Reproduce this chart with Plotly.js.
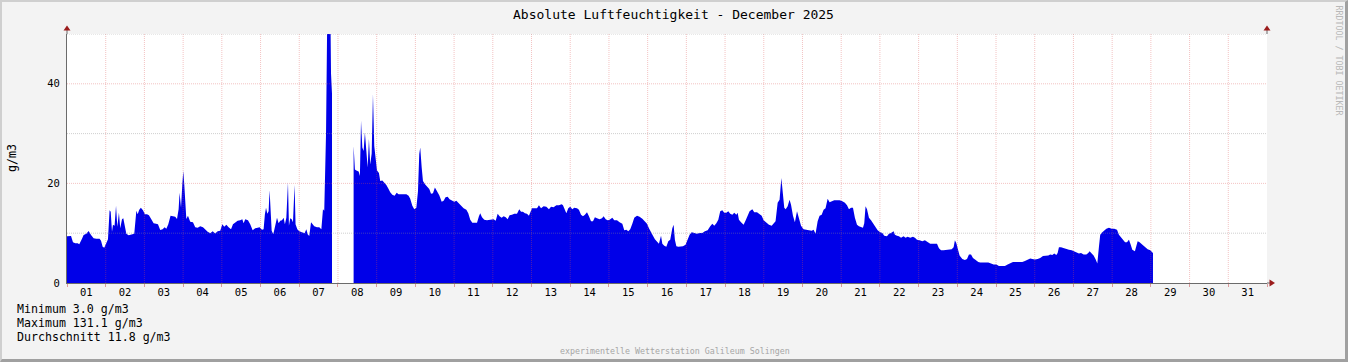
<!DOCTYPE html>
<html>
<head>
<meta charset="utf-8">
<script src="https://cdn.plot.ly/plotly-3.0.1.min.js"></script>
<style>
  html, body { margin: 0; padding: 0; background: #f3f3f3; }
  #wrap { width: 1348px; height: 362px; box-sizing: border-box;
          border-top: 2px solid #cfcfcf; border-left: 2px solid #cfcfcf;
          border-bottom: 3px solid #a0a0a0; border-right: 3px solid #a0a0a0; overflow: hidden; }
  #chart { width: 1343px; height: 357px; }
</style>
</head>
<body>
<div id="wrap"><div id="chart"></div></div>
<script>
// ---- data: hours since 2025-12-01 00:00 and absolute humidity (g/m3) ----
const startDate = '2025-12-01';
const endDate = '2026-01-01';

const hoursA = [0, 0.8, 2.5, 3.7, 5.1, 6.6, 7.6, 9.3, 10.3, 12.0,
  13.4, 14.9, 16.5, 18.2, 20.2, 21.1, 22.1, 23.1, 24.2, 25.4,
  26.4, 27.1, 27.9, 28.5, 29.5, 30.4, 31.2, 32.2, 33.0, 34.1,
  34.9, 35.9, 36.8, 38.2, 40.3, 41.7, 43.0, 43.8, 44.8, 45.8,
  47.1, 48.3, 49.6, 50.8, 52.1, 53.7, 55.2, 56.4, 57.8, 59.3,
  60.5, 61.6, 62.8, 64.2, 65.7, 67.1, 68.2, 69.2, 69.8, 70.7,
  71.5, 72.1, 72.7, 73.3, 74.0, 75.0, 76.4, 78.1, 79.5, 81.0,
  82.6, 84.3, 85.7, 87.2, 88.8, 90.3, 91.9, 93.4, 95.0, 96.3,
  97.5, 98.8, 100.2, 101.7, 102.9, 104.3, 105.8, 107.4, 108.7, 109.5,
  110.5, 112.2, 113.6, 115.1, 116.7, 118.2, 119.4, 120.9, 121.9, 122.7,
  123.4, 124.2, 125.0, 125.6, 126.2, 126.9, 127.9, 129.1, 130.2, 131.2,
  132.2, 133.3, 134.3, 135.1, 136.0, 137.0, 137.6, 138.4, 139.3, 140.1,
  141.1, 141.7, 142.8, 144.0, 145.7, 147.3, 148.4, 149.2, 150.2, 151.3,
  152.3, 153.3, 155.0, 156.4, 157.7, 158.7, 159.5, 160.6, 161.4, 162.2,
  162.8, 163.7, 164.3];
const valuesA = [9.4, 9.45, 9.45, 8.2, 7.96, 8.0, 7.76, 8.9, 9.65, 9.9,
  10.45, 9.65, 8.97, 8.9, 8.9, 8.5, 7.3, 7.1, 8.1, 8.8,
  14.6, 14.3, 10.3, 11.7, 11.5, 15.5, 11.3, 14.1, 11.0, 12.8,
  13.0, 11.6, 9.9, 9.6, 9.7, 9.9, 14.5, 13.8, 14.7, 15.1,
  14.6, 13.8, 13.8, 13.6, 12.9, 12.0, 11.9, 11.8, 10.65, 10.8,
  11.2, 10.9, 11.8, 13.5, 13.4, 13.3, 12.85, 14.8, 18.1, 15.1,
  19.8, 22.5, 19.8, 15.1, 12.85, 13.5, 12.3, 12.2, 11.2, 11.1,
  11.4, 11.2, 10.7, 10.3, 10.0, 10.4, 9.95, 10.4, 10.5, 11.8,
  11.3, 11.7, 11.2, 10.8, 11.8, 12.2, 12.5, 12.6, 12.8, 12.0,
  12.8, 12.6, 11.8, 10.6, 11.0, 11.1, 11.2, 10.7, 10.8, 13.8,
  15.1, 13.9, 14.4, 18.6, 14.1, 10.5, 9.8, 11.8, 13.1, 12.0,
  12.5, 12.6, 13.1, 11.8, 13.1, 20.2, 11.5, 13.0, 12.8, 12.2,
  19.7, 11.8, 10.8, 10.4, 10.2, 10.0, 10.8, 9.8, 9.45, 12.2,
  11.8, 11.4, 11.2, 11.2, 10.8, 14.8, 14.5, 30, 55, 131.1,
  70, 42, 38];

const hoursB = [177.7, 178.5, 179.4, 180.8, 181.6, 182.3, 183.1, 183.9, 184.7, 185.6,
  186.4, 187.2, 188.0, 188.9, 189.7, 190.5, 191.4, 192.2, 193.4, 194.2,
  195.5, 196.7, 198.0, 199.2, 200.4, 201.7, 203.1, 204.4, 205.6, 207.1,
  208.7, 210.4, 211.8, 212.8, 214.1, 215.3, 216.6, 217.6, 218.4, 219.0,
  219.9, 220.7, 222.1, 223.6, 224.6, 225.7, 226.9, 228.1, 229.4, 230.8,
  232.3, 233.5, 234.7, 236.0, 237.2, 238.9, 240.1, 241.4, 242.6, 244.3,
  245.9, 247.6, 248.8, 250.0, 251.3, 252.5, 254.2, 255.4, 256.2, 257.3,
  258.7, 260.4, 262.0, 263.3, 264.5, 265.8, 267.0, 268.2, 269.5, 270.7,
  272.0, 273.2, 274.4, 275.9, 277.3, 279.0, 280.4, 281.5, 282.7, 283.9,
  285.2, 286.4, 287.2, 288.3, 289.7, 291.4, 292.6, 293.9, 295.5, 297.2,
  298.8, 300.1, 301.7, 303.4, 305.0, 306.7, 307.5, 308.7, 309.6, 310.8,
  312.0, 313.3, 314.5, 316.2, 317.4, 318.7, 319.9, 321.1, 322.4, 323.6,
  324.9, 326.1, 327.3, 328.6, 330.2, 331.7, 332.7, 334.0, 335.2, 336.4,
  338.1, 339.3, 341.0, 342.6, 344.3, 345.5, 346.8, 348.0, 349.2, 350.5,
  351.7, 353.4, 355.0, 356.7, 358.3, 359.6, 360.8, 362.1, 363.3, 364.5,
  365.8, 367.0, 368.3, 369.1, 370.3, 371.6, 372.8, 374.0, 375.3, 376.1,
  376.9, 377.8, 379.0, 380.2, 381.9, 383.5, 384.8, 386.0, 387.3, 388.9,
  390.6, 392.2, 393.9, 395.5, 397.2, 398.8, 400.1, 401.3, 402.6, 403.8,
  405.0, 406.3, 407.5, 408.8, 410.0, 411.2, 412.5, 413.7, 415.0, 415.8,
  416.6, 417.9, 419.5, 420.8, 422.0, 423.2, 424.9, 426.1, 427.8, 429.4,
  430.7, 431.9, 433.6, 435.2, 436.9, 438.1, 439.3, 440.6, 441.8, 442.9,
  443.9, 444.7, 445.6, 446.8, 448.0, 448.9, 450.1, 451.3, 452.6, 453.8,
  455.1, 456.7, 458.4, 460.0, 461.7, 462.9, 464.1, 465.4, 466.6, 467.9,
  469.1, 470.3, 471.6, 472.8, 474.1, 475.7, 477.4, 479.0, 480.7, 482.3,
  483.6, 484.8, 486.1, 487.3, 488.5, 489.8, 491.0, 492.3, 493.5, 494.3,
  495.1, 496.0, 497.2, 498.5,
  499.7, 500.9, 502.6, 504.2, 505.5, 506.7, 508.4, 509.6, 510.9, 512.5,
  513.3, 514.6, 515.8, 517.1, 518.7, 519.9, 521.2, 522.8, 524.5, 525.7,
  527.0, 528.6, 530.3, 531.9, 533.6, 535.2, 537.3, 539.4, 540.6, 541.9,
  543.5, 545.2, 546.8, 548.5, 549.7, 550.5, 551.4, 552.2, 553.4, 555.1,
  556.7, 558.0, 559.2, 560.5, 561.7, 563.4, 565.0, 566.2, 567.9, 569.6,
  571.2, 572.9, 574.5, 576.2, 577.8, 579.9, 581.5, 583.2, 584.8, 586.5,
  588.1, 590.2, 592.3, 593.9, 595.6, 597.2, 598.5, 600.1, 601.8, 603.4,
  605.1, 606.7, 608.4, 609.6, 610.9, 612.1, 613.4, 614.2, 615.0, 616.3,
  617.9, 619.6, 621.2, 622.9, 624.5, 626.2, 627.4, 628.7, 630.3, 632.0,
  633.2, 634.0, 635.3, 636.5, 637.8, 638.8, 639.8, 640.6, 641.9, 643.1,
  644.4, 646.0, 647.7, 649.3, 651.0, 652.2, 653.5, 654.7, 656.0, 657.2,
  658.4, 659.3, 660.5, 662.1, 663.0, 663.8, 665.0, 666.7, 668.3, 670.0,
  671.6, 672.9, 673.3];
const valuesB = [27.5, 22.8, 22.6, 22.4, 21.5, 32.6, 27.2, 26.5, 30.2, 26.0,
  23.2, 28.9, 23.8, 26.0, 37.9, 27.5, 24.5, 22.6, 22.1, 20.5,
  20.6, 20.2, 19.7, 19.0, 18.2, 17.7, 17.5, 18.1, 17.8, 17.8,
  17.8, 17.8, 17.5, 16.9, 15.5, 14.8, 15.1, 18.4, 25.9, 27.2,
  23.2, 20.5, 19.8, 19.3, 18.9, 17.9, 18.0, 19.2, 18.5, 17.6,
  16.3, 16.5, 17.2, 17.3, 16.8, 16.5, 16.3, 16.5, 16.1, 15.5,
  15.0, 14.7, 14.0, 12.7, 12.1, 12.1, 12.1, 13.4, 14.0, 13.2,
  12.7, 12.6, 12.7, 12.8, 12.8, 12.5, 13.9, 13.4, 13.1, 13.4,
  13.2, 12.8, 13.6, 13.7, 13.9, 13.9, 14.8, 14.3, 14.3, 14.0,
  13.9, 13.5, 14.0, 15.0, 15.0, 15.0, 15.6, 15.0, 15.4, 15.3,
  14.8, 15.3, 15.2, 15.6, 15.6, 15.8, 15.6, 14.5, 14.0, 15.0,
  15.3, 14.8, 15.1, 15.0, 14.7, 13.7, 13.4, 13.7, 14.2, 13.4,
  12.4, 12.4, 13.2, 13.0, 12.8, 13.0, 13.4, 12.8, 12.6, 12.7,
  13.1, 12.6, 12.6, 12.2, 11.9, 10.6, 10.7, 10.4, 10.8, 11.9,
  13.1, 13.5, 13.3, 12.9, 12.4, 11.9, 11.0, 10.05, 9.5, 8.8,
  8.4, 7.9, 9.5, 7.9, 7.5, 7.3, 8.4, 8.7, 11.0, 11.7,
  8.7, 7.4, 7.3, 7.4, 7.4, 7.7, 8.8, 9.7, 10.2, 10.05,
  9.9, 10.05, 10.05, 10.4, 10.6, 11.4, 11.9, 11.5, 12.0, 12.7,
  14.4, 14.6, 14.1, 14.1, 14.4, 13.9, 13.7, 14.1, 13.7, 14.1,
  12.7, 12.2, 11.7, 12.6, 13.7, 14.4, 14.8, 14.2, 14.2, 13.9,
  13.5, 12.6, 12.2, 11.7, 11.5, 12.0, 12.4, 16.1, 16.7, 21.1,
  18.1, 15.1, 14.8, 15.4, 16.7, 15.7, 13.5, 12.2, 14.4, 12.7,
  11.5, 10.8, 10.7, 10.6, 10.5, 10.7, 9.9, 12.4, 13.5, 13.7,
  14.7, 15.0, 16.9, 16.2, 16.4, 16.6, 16.6, 16.6, 16.4, 16.1,
  15.6, 14.8, 15.1, 15.1, 13.1, 11.7, 11.4, 11.3, 11.1, 12.0,
  15.4, 14.8, 13.1, 12.6,
  12.0, 11.4, 10.6, 10.2, 10.05, 9.5, 9.4, 9.9, 10.05, 10.4,
  9.7, 9.5, 9.4, 9.1, 9.4, 9.1, 9.3, 9.1, 9.3, 9.1,
  8.7, 8.6, 8.4, 8.6, 8.2, 7.9, 7.9, 7.9, 7.0, 6.6,
  6.6, 6.7, 6.8, 6.8, 7.2, 8.6, 8.0, 6.7, 5.5, 4.8,
  4.6, 4.8, 5.7, 5.7, 5.0, 4.6, 4.2, 4.1, 4.1, 4.2,
  4.1, 3.9, 3.7, 3.7, 3.4, 3.4, 3.4, 3.7, 3.9, 4.2,
  4.2, 4.2, 4.2, 4.4, 4.6, 4.9, 4.8, 4.7, 4.8, 5.0,
  5.4, 5.4, 5.5, 5.7, 5.6, 5.9, 5.6, 6.0, 7.2, 7.2,
  7.0, 6.8, 6.7, 6.6, 6.4, 6.2, 5.9, 6.0, 5.7, 5.7,
  6.0, 6.4, 5.9, 5.5, 4.7, 3.9, 7.3, 9.7, 10.2, 10.6,
  10.9, 11.1, 10.9, 10.9, 10.7, 9.7, 9.1, 8.6, 8.2, 8.2,
  8.7, 7.9, 6.7, 6.4, 7.3, 8.4, 8.2, 7.7, 7.4, 6.8,
  6.6, 6.0, 6.0];

const yTickVals = [0, 20, 40];
const yTickTextRight = ['\u00a00', '20', '40'];
const yMajorGrid = [20, 40];
const yMinorGrid = [10, 30, 50];
const dayCount = 31;

const titleText = 'Absolute Luftfeuchtigkeit - December 2025';
const unitText = 'g/m3';
const statLines = ['Minimum 3.0 g/m3', 'Maximum 131.1 g/m3', 'Durchschnitt 11.8 g/m3'];
const footerText = 'experimentelle Wetterstation Galileum Solingen';
const sideText = 'RRDTOOL / TOBI OETIKER';

// ---- helpers ----
const t0 = Date.UTC(2025, 11, 1);
function pad(n) { return (n < 10 ? '0' : '') + n; }
function fmt(ms) {
  const d = new Date(ms);
  return d.getUTCFullYear() + '-' + pad(d.getUTCMonth() + 1) + '-' + pad(d.getUTCDate()) +
    ' ' + pad(d.getUTCHours()) + ':' + pad(d.getUTCMinutes()) + ':' + pad(d.getUTCSeconds());
}
function toDates(hours) { return hours.map(h => fmt(t0 + Math.round(h * 3600000))); }

const FONT = 'DejaVu Sans Mono, monospace';
const FILL = '#0000e8';
const AXISCOL = '#6b6b6b';
const ARROWCOL = '#9b1c1c';
const MAJORGRID = 'rgba(220,80,80,0.34)';
const MINORGRID = 'rgba(140,140,140,0.42)';
const GRIDDASH = '1px,1px';

function areaTrace(hours, values) {
  return {
    type: 'scatter', mode: 'lines', x: toDates(hours), y: values,
    fill: 'tozeroy', fillcolor: FILL, line: { width: 0, color: FILL },
    hoverinfo: 'skip', showlegend: false
  };
}

const traces = [areaTrace(hoursA, valuesA), areaTrace(hoursB, valuesB)];

// grid lines drawn above the area (as in the original)
const shapes = [];
for (let d = 1; d < dayCount; d++) {
  shapes.push({ type: 'line', layer: 'above', xref: 'x', yref: 'paper',
    x0: fmt(t0 + d * 86400000), x1: fmt(t0 + d * 86400000), y0: 0, y1: 1,
    line: { color: MAJORGRID, width: 1, dash: GRIDDASH } });
}
yMajorGrid.forEach(v => shapes.push({ type: 'line', layer: 'above', xref: 'paper', yref: 'y',
  x0: 0, x1: 1, y0: v, y1: v, line: { color: MAJORGRID, width: 1, dash: GRIDDASH } }));
yMinorGrid.forEach(v => shapes.push({ type: 'line', layer: 'above', xref: 'paper', yref: 'y',
  x0: 0, x1: 1, y0: v, y1: v, line: { color: MINORGRID, width: 1, dash: GRIDDASH } }));

// axis arrows
function pixShape(xa, ya, path, fill, lineColor) {
  return { type: 'path', layer: 'above', xref: 'paper', yref: 'paper',
    xsizemode: 'pixel', ysizemode: 'pixel', xanchor: xa, yanchor: ya, path: path,
    fillcolor: fill, line: { color: lineColor, width: fill ? 0 : 1 } };
}
[0, 1].forEach(xa => {
  shapes.push(pixShape(xa, 1, 'M0,0 L0,4', null, AXISCOL));
  shapes.push(pixShape(xa, 1, 'M-3.5,3.5 L3.5,3.5 L0,8.5 Z', ARROWCOL, ARROWCOL));
});
shapes.push(pixShape(1, 0, 'M0,0 L3,0', null, AXISCOL));
shapes.push(pixShape(1, 0, 'M2.5,-3.5 L2.5,3.5 L8,0 Z', ARROWCOL, ARROWCOL));

const annotations = [
  { text: unitText, xref: 'paper', yref: 'paper', x: -0.0458, y: 0.502, textangle: -90,
    xanchor: 'center', yanchor: 'middle', showarrow: false, font: { family: FONT, size: 11.6, color: '#000' } },
  { text: footerText, xref: 'paper', yref: 'paper', x: 0.5063, y: -0.2731,
    xanchor: 'center', yanchor: 'middle', showarrow: false, font: { family: FONT, size: 8.3, color: '#a6a6a6' } },
  { text: sideText, xref: 'paper', yref: 'paper', x: 1.06, y: 0.8936, textangle: 90,
    xanchor: 'center', yanchor: 'middle', showarrow: false, font: { family: FONT, size: 8.3, color: '#b8b8b8' } }
];
const statY = [-0.1044, -0.1618, -0.2169];
statLines.forEach((s, i) => annotations.push({ text: s, xref: 'paper', yref: 'paper', x: -0.0433, y: statY[i],
  xanchor: 'left', yanchor: 'middle', showarrow: false, font: { family: FONT, size: 11.6, color: '#000' } }));

const layout = {
  width: 1343, height: 357,
  margin: { l: 65, r: 78, t: 32, b: 76, pad: 0 },
  paper_bgcolor: '#f3f3f3', plot_bgcolor: '#ffffff',
  showlegend: false,
  font: { family: FONT, size: 10.5, color: '#000' },
  title: { text: titleText, font: { family: FONT, size: 13, color: '#000' },
    x: 0.5, xref: 'container', xanchor: 'center', y: 1 - 12 / 357, yref: 'container', yanchor: 'middle' },
  xaxis: {
    type: 'date', range: [startDate, endDate], tick0: startDate, dtick: 86400000,
    tickformat: '%d', ticklabelmode: 'period', ticklabelstandoff: -4,
    ticks: 'outside', ticklen: 3, tickcolor: '#dc9a9a', tickwidth: 1,
    showgrid: false, zeroline: false, showline: true, linecolor: AXISCOL, linewidth: 1,
    tickfont: { family: FONT, size: 10.5, color: '#000' }, fixedrange: true
  },
  yaxis: {
    range: [0, 50], tickvals: yTickVals, ticks: 'outside', ticklen: 4, tickcolor: 'rgba(0,0,0,0)',
    showgrid: false, zeroline: false, showline: true, linecolor: AXISCOL, linewidth: 1,
    tickfont: { family: FONT, size: 10.5, color: '#000' }, fixedrange: true
  },
  yaxis2: {
    overlaying: 'y', side: 'right', range: [0, 50], tickvals: yTickVals, ticktext: yTickTextRight,
    ticks: 'outside', ticklen: 23, tickcolor: 'rgba(0,0,0,0)',
    showgrid: false, zeroline: false, showline: true, linecolor: AXISCOL, linewidth: 1,
    tickfont: { family: FONT, size: 10.5, color: '#000' }, fixedrange: true
  },
  shapes: shapes,
  annotations: annotations
};

Plotly.newPlot('chart', traces, layout, { displayModeBar: false, staticPlot: true });
</script>
</body>
</html>
